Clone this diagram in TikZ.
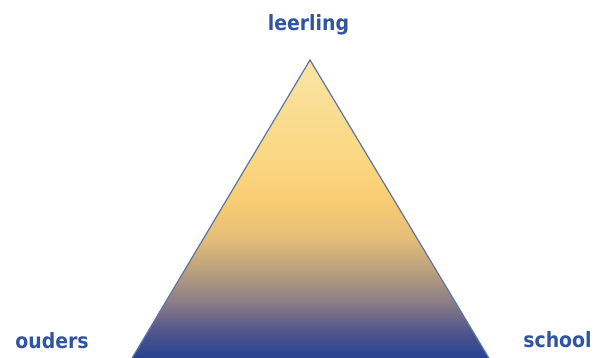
\documentclass[tikz,border=0pt]{standalone}
\usepackage{fontspec}
\setmainfont{DejaVu Sans}
\newfontfamily\hoekfont[FakeStretch=0.9]{DejaVu Sans}
\usepackage{tikz}
\usetikzlibrary{positioning}
\definecolor{Tricolor1}{RGB}{35,65,145}
\definecolor{Tricolor2}{RGB}{80,85,140}
\definecolor{Tricolor3}{RGB}{140,125,135}
\definecolor{Tricolor4}{RGB}{185,160,125}
\definecolor{Tricolor5}{RGB}{230,190,120}
\definecolor{Tricolor6}{RGB}{248,205,115}
\definecolor{Tricolor7}{RGB}{250,213,125}
\definecolor{Tricolor8}{RGB}{250,228,165}
\definecolor{Rand}{RGB}{90,118,165}
\definecolor{Tekst}{RGB}{48,84,160}
\pgfdeclareverticalshading{driehoek}{100bp}{
  color(0bp)=(Tricolor1); color(25bp)=(Tricolor1);
  color(29.7bp)=(Tricolor2); color(34.7bp)=(Tricolor3);
  color(39.8bp)=(Tricolor4); color(45.6bp)=(Tricolor5);
  color(51.5bp)=(Tricolor6); color(56.5bp)=(Tricolor7);
  color(75bp)=(Tricolor8); color(100bp)=(Tricolor8)}

\begin{document}
\begin{tikzpicture}[
  x=1pt, y=1pt,
  hoek/.style={
    font=\hoekfont\fontsize{21}{24}\selectfont\bfseries,
    text=Tekst, inner sep=0pt, anchor=base
  },
  vlak/.style={
    shading=driehoek, draw=Rand, line width=1.2pt,
    line join=miter
  }
]
\useasboundingbox (0,0) rectangle (595,358);

%% ── Hoekpunten ───────────────────────────────────────────────────────────
\coordinate (top)    at (310, 298);
\coordinate (links)  at (131, -2);
\coordinate (rechts) at (490, -2);

%% ── Driehoek (onderrand valt buiten beeld) ───────────────────────────────
\begin{scope}
  \clip (0,0) rectangle (595,358);
  \shade[vlak] (top) -- (rechts) -- (links) -- cycle;
\end{scope}

%% ── Labels ───────────────────────────────────────────────────────────────
\node[hoek] (leerling) at (308.5, 327) {leerling};
\node[hoek] (ouders)   at (52, 9.5)    {ouders};
\node[hoek] (school)   at (557.5, 10.5) {school};

\end{tikzpicture}
\end{document}
